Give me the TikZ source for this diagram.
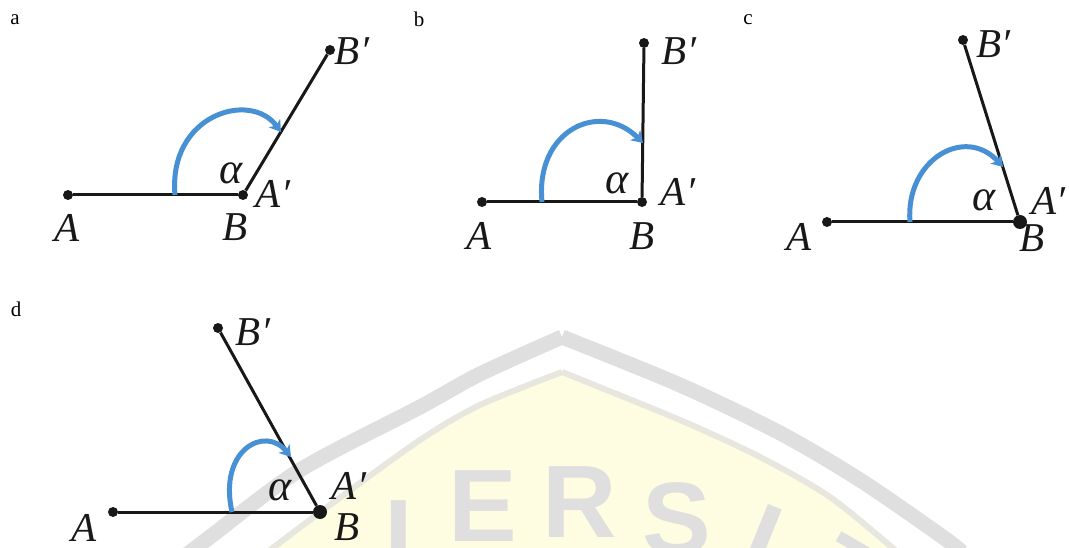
\documentclass[tikz,border=0pt]{standalone}
\usepackage{fontspec}
\setmainfont{Liberation Serif}
\newfontfamily\wmfont{Liberation Sans}
\newfontfamily\labfont{Liberation Serif}
\usetikzlibrary{arrows.meta}
\definecolor{ink}{RGB}{24,24,24}
\definecolor{arcblue}{RGB}{72,144,212}
\definecolor{wmgray}{RGB}{223,223,223}
\definecolor{wmline}{RGB}{231,231,224}
\definecolor{wmyellow}{RGB}{255,253,225}
\tikzset{
  seg/.style={draw=ink, line width=3pt},
  pt/.style={circle, fill=ink, inner sep=0pt, minimum size=10pt},
  bigpt/.style={pt, minimum size=14pt},
  lab/.style={inner sep=0pt, text=ink, font=\labfont\itshape\fontsize{41}{44}\selectfont},
  alab/.style={lab, font=\labfont\itshape\fontsize{44}{46}\selectfont},
  panel/.style={inner sep=0pt, text=black, font=\fontsize{21}{24}\selectfont},
  rot/.style={draw=arcblue, line width=5pt, line cap=butt,
    -{Stealth[length=11pt,width=14pt,inset=3pt]}},
  wm/.style={inner sep=0pt, text=wmgray, font=\wmfont\bfseries\fontsize{103}{103}\selectfont}
}
\begin{document}
\begin{tikzpicture}[x=1pt,y=-1pt]
\useasboundingbox (0,0) rectangle (1069,548);
% watermark
\begin{scope}
\clip (0,0) rectangle (1069,548);
\fill[wmyellow] plot[smooth] coordinates {(270,550) (330,505) (420,440) (480,405) (562,372)}
  -- plot[smooth] coordinates {(562,372) (680,420) (760,457) (830,497) (895,550)} -- cycle;
\draw[wmline, line width=6pt] plot[smooth] coordinates {(270,550) (330,505) (420,440) (480,405) (562,372)};
\draw[wmline, line width=6pt] plot[smooth] coordinates {(562,372) (680,420) (760,457) (830,497) (895,550)};
\draw[wmgray, line width=15pt] plot[smooth] coordinates {(185,556) (210,537) (300,470) (420,407) (480,374) (562,337)};
\draw[wmgray, line width=15pt] plot[smooth] coordinates {(562,337) (680,385) (780,433) (860,480) (940,535) (962,552)};
\node[wm, anchor=base] (wm1) at (399,571) {I};
\node[wm, anchor=base] (wm2) at (483,541) {E};
\node[wm, anchor=base] (wm3) at (580,537) {R};
\node[wm, anchor=base] (wm4) at (677,554) {S};
\node[wm, rotate=-22] (wm5) at (762,540) {I};
\node[wm, rotate=-30] (wm6) at (850,578) {T};
\end{scope}
% panel labels
\node[panel] (la) at (15,20) {a};
\node[panel] (lb) at (419,19) {b};
\node[panel] (lc) at (748,20) {c};
\node[panel] (ld) at (16,309) {d};
% ---- panel a
\node[pt] (aA) at (68,195) {};
\node[pt] (aB) at (243,195) {};
\node[pt] (aBp) at (330,50) {};
\draw[seg] (aA) -- (aB);
\draw[seg] (aB) -- (aBp);
\coordinate (as) at (175,195);
\coordinate (ae) at (281,132);
\draw[rot] (as) .. controls (168,115) and (250,90) .. (ae);
\node[lab] (aAl) at (67,228) {A};
\node[lab] (aBl) at (235,227) {B};
\node[lab] (aApl) at (273,194) {A′};
\node[lab] (aBpl) at (352,51) {B′};
\node[alab] (aal) at (231,173) {α};
% ---- panel b
\node[pt] (bA) at (482,202) {};
\node[pt] (bB) at (642,202) {};
\node[pt] (bBp) at (644,43) {};
\draw[seg] (bA) -- (bB);
\draw[seg] (bB) -- (bBp);
\coordinate (bs) at (542,202);
\coordinate (be) at (643,143);
\draw[rot] (bs) .. controls (535,130) and (600,100) .. (be);
\node[lab] (bAl) at (479,236) {A};
\node[lab] (bBl) at (642,236) {B};
\node[lab] (bApl) at (678,192) {A′};
\node[lab] (bBpl) at (679,51) {B′};
\node[alab] (bal) at (617,183) {α};
% ---- panel c
\node[pt] (cA) at (827,222) {};
\node[bigpt] (cB) at (1020,222) {};
\node[pt] (cBp) at (963,40) {};
\draw[seg] (cA) -- (cB);
\draw[seg] (cB) -- (cBp);
\coordinate (cs) at (910,222);
\coordinate (ce) at (1003,167);
\draw[rot] (cs) .. controls (905,160) and (965,125) .. (ce);
\node[lab] (cAl) at (799,237) {A};
\node[lab] (cBl) at (1032,238) {B};
\node[lab] (cApl) at (1048,201) {A′};
\node[lab] (cBpl) at (993,44) {B′};
\node[alab] (cal) at (984,200) {α};
% ---- panel d
\node[pt] (dA) at (113,512) {};
\node[bigpt] (dB) at (320,512) {};
\node[pt] (dBp) at (218,328) {};
\draw[seg] (dA) -- (dB);
\draw[seg] (dB) -- (dBp);
\coordinate (ds) at (232,512);
\coordinate (de) at (291,457);
\draw[rot] (ds) .. controls (218,450) and (265,425) .. (de);
\node[lab] (dAl) at (84,528) {A};
\node[lab] (dBl) at (347,527) {B};
\node[lab] (dApl) at (349,486) {A′};
\node[lab] (dBpl) at (253,332) {B′};
\node[alab] (dal) at (280,490) {α};
\end{tikzpicture}
\end{document}
